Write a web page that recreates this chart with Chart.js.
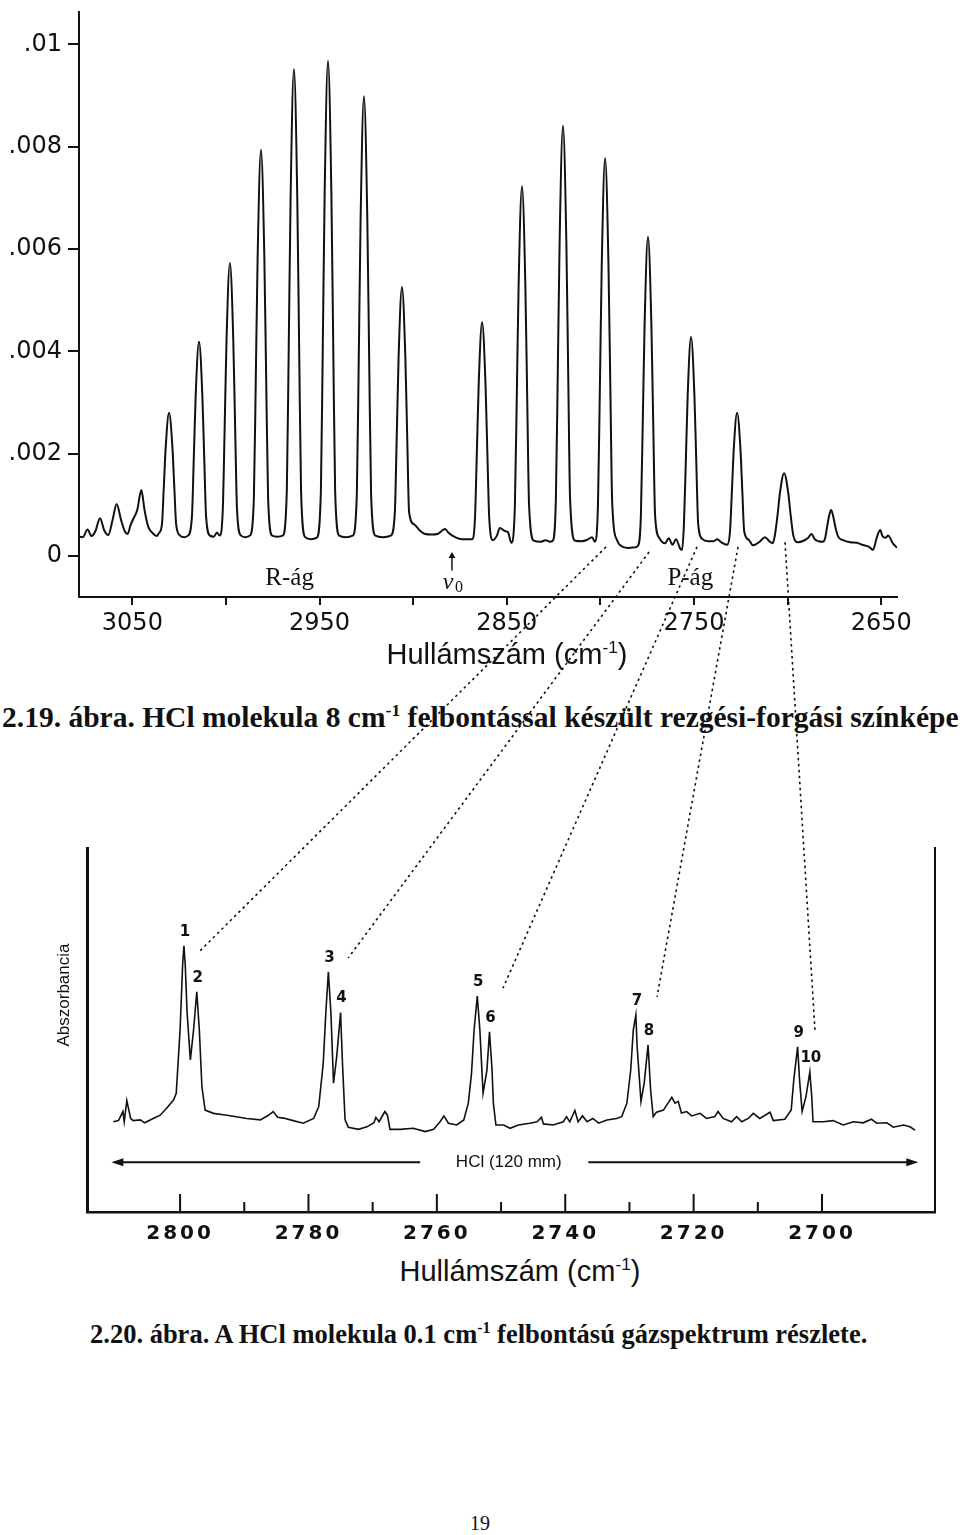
<!DOCTYPE html>
<html>
<head>
<meta charset="utf-8">
<script src="https://cdn.jsdelivr.net/npm/chart.js@4.4.1/dist/chart.umd.min.js"></script>
<style>
  body { margin: 0; background: #fff; }
  #page { position: relative; width: 960px; height: 1535px; overflow: hidden; background: #fff; }
  canvas { position: absolute; left: 0; }
  .txt { position: absolute; white-space: nowrap; color: #111; line-height: 1; }
  .sans { font-family: "Liberation Sans", Arial, sans-serif; }
  .serif { font-family: "Liberation Serif", "Times New Roman", serif; }
  sup { font-size: 0.6em; vertical-align: 0.65em; line-height: 0; }
</style>
</head>
<body>
<div id="page">
  <canvas id="lowRes" width="960" height="680" style="top:0"></canvas>
  <canvas id="hiRes" width="960" height="430" style="top:820px"></canvas>

  <div class="txt sans" style="left:507px; top:640px; font-size:29px; transform:translateX(-50%)">Hullámszám (cm<sup>-1</sup>)</div>
  <div class="txt serif" style="left:2px; top:703px; font-size:29.5px; font-weight:bold">2.19. ábra. HCl molekula 8 cm<sup>-1</sup> felbontással készült rezgési-forgási színképe</div>

  <div class="txt sans" style="left:63px; top:995px; font-size:17px; transform:translate(-50%,-50%) rotate(-90deg)">Abszorbancia</div>
  <div class="txt sans" style="left:520px; top:1257px; font-size:29px; transform:translateX(-50%)">Hullámszám (cm<sup>-1</sup>)</div>
  <div class="txt serif" style="left:90px; top:1321px; font-size:26.5px; font-weight:bold">2.20. ábra. A HCl molekula 0.1 cm<sup>-1</sup> felbontású gázspektrum részlete.</div>

  <div class="txt serif" style="left:480px; top:1513px; font-size:20px; transform:translateX(-50%)">19</div>

  <canvas id="overlay" width="960" height="1535" style="top:0; pointer-events:none"></canvas>
</div>

<script>
Chart.defaults.font.family = "'DejaVu Sans', sans-serif";
Chart.defaults.color = "#111";

// 8 cm-1 spectrum, [wavenumber, absorbance]
const rBranch = [
  [3078.8, 0.00038], [3076.5, 0.00037], [3073.9, 0.00052], [3071.8, 0.00039], [3069.6, 0.0005],
  [3067.3, 0.00074], [3065.0, 0.0005], [3062.9, 0.00041], [3060.6, 0.0007], [3058.4, 0.00102],
  [3056.0, 0.0007], [3054.0, 0.00048], [3052.6, 0.00043], [3051.0, 0.0006], [3049.6, 0.00072],
  [3047.4, 0.0009], [3045.2, 0.00129], [3043.5, 0.0009], [3041.5, 0.00057], [3039.2, 0.00045],
  [3037.0, 0.00039], [3035.8, 0.00045],
  [3034.2, 0.00062], [3033.2, 0.00135], [3032.2, 0.00212], [3030.4, 0.0028], [3028.6, 0.00212], [3027.6, 0.00135], [3026.6, 0.00062],
  [3024.5, 0.0004], [3022.3, 0.00037], [3020.3, 0.0004],
  [3018.2, 0.00076], [3017.2, 0.0019], [3016.2, 0.00312], [3014.4, 0.00419], [3012.6, 0.00312], [3011.6, 0.0019], [3010.6, 0.00076],
  [3008.5, 0.0004], [3006.5, 0.00038], [3004.8, 0.00046], [3003.4, 0.0004],
  [3001.7, 0.00091], [3000.7, 0.00251], [2999.7, 0.00423], [2997.9, 0.00573], [2996.1, 0.00423], [2995.1, 0.00251], [2994.1, 0.00091],
  [2992.0, 0.0004], [2989.5, 0.00037], [2987.2, 0.0004],
  [2985.1, 0.00113], [2984.1, 0.0034], [2983.1, 0.00582], [2981.3, 0.00794], [2979.5, 0.00582], [2978.5, 0.0034], [2977.5, 0.00113],
  [2975.3, 0.0004], [2972.5, 0.00038], [2969.7, 0.0004],
  [2967.5, 0.00128], [2966.5, 0.00402], [2965.5, 0.00696], [2963.7, 0.00952], [2961.9, 0.00696], [2960.9, 0.00402], [2959.9, 0.00128],
  [2957.7, 0.00037], [2954.6, 0.00033], [2951.5, 0.00036],
  [2949.3, 0.00128], [2948.3, 0.00408], [2947.3, 0.00707], [2945.5, 0.00968], [2943.7, 0.00707], [2942.7, 0.00408], [2941.7, 0.00128],
  [2939.5, 0.0004], [2936.0, 0.00037], [2932.3, 0.0004],
  [2930.1, 0.00122], [2929.1, 0.00381], [2928.1, 0.00657], [2926.3, 0.00899], [2924.5, 0.00657], [2923.5, 0.00381], [2922.5, 0.00122],
  [2920.2, 0.0004], [2916.0, 0.00037], [2912.0, 0.0004],
  [2909.8, 0.00086], [2908.8, 0.00233], [2907.8, 0.00389], [2906.0, 0.00526], [2904.2, 0.00389], [2903.2, 0.00233], [2902.2, 0.00086],
  [2899.5, 0.00062], [2896.5, 0.0005], [2893.7, 0.00043], [2890.0, 0.00042], [2887.0, 0.00043],
  [2884.5, 0.0005], [2883.0, 0.00053], [2881.0, 0.00045], [2878.6, 0.00039], [2874.0, 0.00033], [2868.6, 0.00033]
];
const pBranch = [
  [2867.0, 0.00075], [2866.0, 0.00203], [2865.0, 0.00338], [2863.2, 0.00457], [2861.4, 0.00338], [2860.4, 0.00203], [2859.4, 0.00075],
  [2857.4, 0.00031], [2855.3, 0.0004], [2853.7, 0.00055], [2851.0, 0.00049], [2849.4, 0.00047], [2847.6, 0.00026],
  [2845.7, 0.00098], [2844.7, 0.00307], [2843.7, 0.00529], [2841.9, 0.00723], [2840.1, 0.00529], [2839.1, 0.00307], [2838.1, 0.00098],
  [2835.5, 0.0003], [2832.0, 0.00028], [2829.3, 0.00031], [2827.0, 0.00028], [2825.5, 0.0003],
  [2823.8, 0.00111], [2822.8, 0.00354], [2821.8, 0.00614], [2820.0, 0.00841], [2818.2, 0.00614], [2817.2, 0.00354], [2816.2, 0.00111],
  [2813.5, 0.0003], [2810.0, 0.00029], [2807.0, 0.00032], [2804.5, 0.00037], [2803.0, 0.00028],
  [2801.3, 0.00103], [2800.3, 0.00328], [2799.3, 0.00568], [2797.5, 0.00778], [2795.7, 0.00568], [2794.7, 0.00328], [2793.7, 0.00103],
  [2791.0, 0.0003], [2788.0, 0.00018], [2785.0, 0.00016], [2781.5, 0.00017], [2780.0, 0.0002],
  [2778.4, 0.00079], [2777.4, 0.0026], [2776.4, 0.00454], [2774.6, 0.00624], [2772.8, 0.00454], [2771.8, 0.0026], [2770.8, 0.00079],
  [2768.5, 0.00035], [2765.5, 0.00025], [2763.5, 0.00035], [2761.5, 0.00022], [2759.6, 0.00033], [2757.5, 0.00015], [2756.4, 0.00012],
  [2755.4, 0.00063], [2754.4, 0.00184], [2753.4, 0.00314], [2751.6, 0.00428], [2749.8, 0.00314], [2748.8, 0.00184], [2747.8, 0.00063],
  [2745.5, 0.00033], [2742.5, 0.00029], [2739.8, 0.00029], [2737.5, 0.00033], [2735.5, 0.00027], [2732.2, 0.00022],
  [2730.8, 0.00048], [2729.8, 0.00125], [2728.8, 0.00208], [2727.0, 0.0028], [2725.2, 0.00208], [2724.2, 0.00125], [2723.2, 0.00048],
  [2720.8, 0.00032], [2718.5, 0.00021], [2715.0, 0.00028], [2712.1, 0.00037], [2709.8, 0.00029], [2708.0, 0.00025],
  [2706.9, 0.00039], [2705.4, 0.0008], [2704.1, 0.00124], [2701.9, 0.00162], [2699.7, 0.00124], [2698.4, 0.0008], [2696.9, 0.00039],
  [2694.5, 0.00027], [2691.5, 0.0003], [2689.0, 0.00036], [2687.3, 0.00043], [2685.5, 0.00033], [2683.5, 0.00029], [2681.2, 0.00028],
  [2680.0, 0.00035], [2678.8, 0.0006], [2677.8, 0.0008], [2676.8, 0.0009], [2675.8, 0.0008], [2674.6, 0.00058], [2673.0, 0.00038],
  [2670.4, 0.00031], [2666.6, 0.00027], [2663.0, 0.00026], [2660.3, 0.00022], [2656.5, 0.00018], [2654.4, 0.00012],
  [2652.5, 0.00035], [2650.6, 0.00051], [2649.2, 0.00038], [2647.6, 0.00036], [2646.4, 0.0004], [2643.8, 0.00025], [2641.6, 0.00016]
];
const lowResTicks = [3050, 3000, 2950, 2900, 2850, 2800, 2750, 2700, 2650];
const lowResTickLabels = ["3050", "", "2950", "", "2850", "", "2750", "", "2650"];
const absTicks = [0, 0.002, 0.004, 0.006, 0.008, 0.01];
const absTickLabels = ["0", ".002", ".004", ".006", ".008", ".01"];
const branchLabels = [["R-ág", 2966, -0.00043], ["P-ág", 2752, -0.00043]];
const bandOrigin = 2879.3;

// 0.1 cm-1 spectrum, [wavenumber, absorbance in arbitrary units]
const hiResSpectrum = [
  [2810.4, 24.8], [2809.6, 25.1], [2808.9, 27.6], [2808.7, 24.8], [2808.3, 30.6], [2807.7, 25.7], [2807.3, 25.1],
  [2806.2, 25.3], [2805.5, 24.5], [2804.2, 25.7], [2803.1, 26.6], [2802.1, 28.5], [2801.0, 30.8], [2800.6, 32.6],
  [2800.0, 50.0], [2799.6, 68.0], [2799.4, 73.1], [2799.2, 68.0], [2798.9, 54.6], [2798.4, 41.8], [2797.9, 50.0],
  [2797.4, 60.5], [2797.0, 50.0], [2796.6, 34.4], [2796.1, 28.0], [2794.8, 27.1], [2792.7, 26.6], [2789.6, 25.7],
  [2787.5, 25.3], [2786.3, 26.5], [2785.5, 27.6], [2784.8, 26.0], [2783.9, 25.8], [2782.4, 25.1], [2780.8, 24.4],
  [2779.2, 25.7], [2778.4, 29.0], [2777.7, 40.8], [2777.3, 54.6], [2776.9, 66.0], [2776.5, 54.6], [2776.1, 35.4],
  [2775.6, 42.7], [2775.0, 54.8], [2774.7, 40.8], [2774.3, 25.3], [2773.8, 23.3], [2772.2, 22.7], [2770.9, 23.4],
  [2769.8, 24.5], [2769.5, 26.0], [2769.0, 24.8], [2768.1, 27.6], [2767.7, 26.6], [2767.3, 22.7], [2765.7, 22.7],
  [2763.7, 23.0], [2761.8, 22.1], [2760.5, 22.7], [2759.5, 24.8], [2758.9, 26.4], [2758.2, 24.4], [2756.9, 23.9],
  [2755.8, 25.3], [2755.1, 29.9], [2754.6, 38.1], [2754.2, 50.0], [2753.7, 59.3], [2753.3, 50.0], [2752.8, 32.6],
  [2752.2, 39.0], [2751.8, 49.5], [2751.4, 39.0], [2751.2, 29.9], [2750.8, 23.9], [2749.6, 23.9], [2748.6, 23.0],
  [2747.3, 23.9], [2745.5, 24.4], [2744.4, 24.8], [2743.7, 26.0], [2743.4, 24.2], [2741.9, 23.9], [2740.3, 24.8],
  [2739.8, 26.2], [2739.3, 24.8], [2738.5, 27.9], [2738.0, 24.8], [2737.3, 26.4], [2736.6, 24.8], [2735.7, 25.7],
  [2734.8, 24.4], [2733.5, 25.3], [2732.0, 25.7], [2731.2, 26.2], [2730.4, 29.9], [2729.8, 39.0], [2729.4, 50.0],
  [2729.0, 54.1], [2728.8, 45.4], [2728.2, 30.4], [2727.7, 35.4], [2727.1, 45.9], [2726.7, 33.5], [2726.3, 26.2],
  [2725.8, 27.4], [2724.7, 28.0], [2723.4, 31.5], [2722.9, 29.9], [2722.4, 30.4], [2721.9, 27.2], [2721.1, 27.6],
  [2720.3, 26.4], [2719.0, 27.1], [2718.0, 25.7], [2716.7, 26.2], [2716.2, 27.6], [2715.4, 25.7], [2714.1, 24.8],
  [2713.3, 26.2], [2712.5, 24.8], [2711.5, 25.7], [2710.7, 27.1], [2709.7, 25.7], [2708.1, 27.4], [2707.6, 25.1],
  [2705.8, 25.5], [2704.8, 28.0], [2704.4, 36.3], [2703.8, 45.4], [2703.5, 36.3], [2703.1, 27.6], [2702.5, 31.7],
  [2701.9, 38.5], [2701.6, 31.7], [2701.4, 24.8], [2699.8, 24.8], [2698.3, 25.1], [2696.7, 23.9], [2695.1, 24.8],
  [2693.6, 24.5], [2692.3, 25.5], [2691.5, 24.4], [2689.9, 24.5], [2688.9, 23.3], [2687.3, 23.9], [2686.3, 23.4],
  [2685.5, 22.5]
];
const hiResTicks = [2800, 2790, 2780, 2770, 2760, 2750, 2740, 2730, 2720, 2710, 2700];
const hiResTickLabels = ["2800", "", "2780", "", "2760", "", "2740", "", "2720", "", "2700"];
const peakNumbers = ["1", "2", "3", "4", "5", "6", "7", "8", "9", "10"];
const peakWavenumbers = [2799.4, 2797.4, 2776.9, 2775.0, 2753.7, 2751.8, 2729.0, 2727.1, 2703.8, 2701.9];
const cellLabel = "HCl (120 mm)";

// dotted guides: low-res line foot -> high-res doublet
const guideFrom = [[2797.0, 0.00018], [2774.0, 0.00008], [2748.4, 0.00018], [2726.5, 0.00018], [2701.4, 0.00027]];
const guideTo = [[2797.2, 71.2], [2773.8, 69.8], [2749.7, 61.5], [2725.7, 59.1], [2701.1, 50.0]];

const ink = "#111";

function arrowHead(ctx, x, y, dir, len, half) {
  ctx.beginPath();
  ctx.moveTo(x, y);
  ctx.lineTo(x - dir * len, y - half);
  ctx.lineTo(x - dir * len, y + half);
  ctx.closePath();
  ctx.fill();
}

const lowResNotes = {
  id: "lowResNotes",
  afterDraw(chart) {
    const { ctx, scales: { x, y } } = chart;
    ctx.save();
    ctx.fillStyle = ink;
    ctx.strokeStyle = ink;
    ctx.textAlign = "center";
    ctx.textBaseline = "middle";
    ctx.font = "25px 'Liberation Serif', serif";
    branchLabels.forEach(([t, w, a]) => ctx.fillText(t, x.getPixelForValue(w), y.getPixelForValue(a)));
    // band origin arrow
    const ox = x.getPixelForValue(bandOrigin);
    ctx.lineWidth = 1.5;
    ctx.beginPath();
    ctx.moveTo(ox, y.getPixelForValue(-0.00028));
    ctx.lineTo(ox, y.getPixelForValue(0.00002));
    ctx.stroke();
    ctx.beginPath();
    ctx.moveTo(ox, y.getPixelForValue(0.00008));
    ctx.lineTo(ox - 3.5, y.getPixelForValue(-0.00004));
    ctx.lineTo(ox + 3.5, y.getPixelForValue(-0.00004));
    ctx.closePath();
    ctx.fill();
    const ny = y.getPixelForValue(-0.00052);
    ctx.font = "italic 24px 'Liberation Serif', serif";
    ctx.fillText("ν", ox - 4, ny);
    ctx.font = "16px 'Liberation Serif', serif";
    ctx.fillText("0", ox + 7, ny + 5);
    ctx.restore();
  }
};

const hiResNotes = {
  id: "hiResNotes",
  beforeDraw(chart) { chart.ctx.letterSpacing = "3px"; },
  afterDraw(chart) {
    const { ctx, scales: { x, y } } = chart;
    ctx.save();
    ctx.letterSpacing = "0px";
    ctx.strokeStyle = ink;
    ctx.fillStyle = ink;
    // tick marks point up into the plot
    ctx.lineWidth = 2;
    hiResTicks.forEach((v, i) => {
      const px = x.getPixelForValue(v);
      const len = hiResTickLabels[i] ? 18 : 10;
      ctx.beginPath();
      ctx.moveTo(px, x.top);
      ctx.lineTo(px, x.top - len);
      ctx.stroke();
    });
    // peak numbers
    ctx.font = "bold 15px 'DejaVu Sans', sans-serif";
    ctx.textAlign = "center";
    ctx.textBaseline = "middle";
    peakWavenumbers.forEach((w, i) => {
      const pt = hiResSpectrum.find(d => d[0] === w);
      ctx.fillText(peakNumbers[i], x.getPixelForValue(w) + 1, y.getPixelForValue(pt[1]) - 14);
    });
    // gas cell arrows
    const ay = y.getPixelForValue(13.7);
    const l0 = x.getPixelForValue(2810.7), l1 = x.getPixelForValue(2762.6);
    const r0 = x.getPixelForValue(2736.4), r1 = x.getPixelForValue(2685.0);
    ctx.lineWidth = 2;
    ctx.beginPath();
    ctx.moveTo(l0 + 8, ay); ctx.lineTo(l1, ay);
    ctx.moveTo(r0, ay); ctx.lineTo(r1 - 8, ay);
    ctx.stroke();
    arrowHead(ctx, l0, ay, -1, 12, 4);
    arrowHead(ctx, r1, ay, 1, 12, 4);
    ctx.font = "17px 'Liberation Sans', sans-serif";
    ctx.fillText(cellLabel, x.getPixelForValue(2748.8), ay);
    ctx.restore();
  }
};

const lowResChart = new Chart("lowRes", {
  type: "line",
  data: {
    datasets: [{
      data: rBranch.concat(pBranch).map(([w, a]) => ({ x: w, y: a })),
      borderColor: ink,
      borderWidth: 2,
      pointRadius: 0,
      fill: false,
      cubicInterpolationMode: "monotone"
    }]
  },
  options: {
    responsive: false,
    animation: false,
    layout: { padding: { top: 12, right: 63, left: 0, bottom: 0 } },
    plugins: { legend: { display: false }, tooltip: { enabled: false } },
    scales: {
      x: {
        type: "linear",
        reverse: true,
        min: 2641.6,
        max: 3078.5,
        afterBuildTicks: s => { s.ticks = lowResTicks.map(v => ({ value: v })); },
        afterFit: s => { s.height = 83; s.paddingLeft = 0; s.paddingRight = 0; },
        ticks: {
          autoSkip: false, maxRotation: 0, padding: 4,
          font: { size: 24 }, color: ink,
          callback: v => lowResTickLabels[lowResTicks.indexOf(v)]
        },
        grid: { drawOnChartArea: false, tickLength: 8, color: ink, lineWidth: 2 },
        border: { color: ink, width: 2 }
      },
      y: {
        min: -0.0008,
        max: 0.010635,
        afterBuildTicks: s => { s.ticks = absTicks.map(v => ({ value: v })); },
        afterFit: s => { s.width = 79; s.paddingTop = 0; s.paddingBottom = 0; },
        ticks: {
          padding: 6, font: { size: 24 }, color: ink,
          callback: v => absTickLabels[absTicks.indexOf(v)]
        },
        grid: { drawOnChartArea: false, tickLength: 11, color: ink, lineWidth: 2 },
        border: { color: ink, width: 2 }
      }
    }
  },
  plugins: [lowResNotes]
});

const hiResChart = new Chart("hiRes", {
  type: "line",
  data: {
    datasets: [{
      data: hiResSpectrum.map(([w, a]) => ({ x: w, y: a })),
      borderColor: ink,
      borderWidth: 1.6,
      pointRadius: 0,
      fill: false,
      tension: 0
    }]
  },
  options: {
    responsive: false,
    animation: false,
    layout: { padding: { top: 28, right: 0, left: 0, bottom: 0 } },
    plugins: { legend: { display: false }, tooltip: { enabled: false } },
    scales: {
      x: {
        type: "linear",
        reverse: true,
        min: 2682.4,
        max: 2814.5,
        afterBuildTicks: s => { s.ticks = hiResTicks.map(v => ({ value: v })); },
        afterFit: s => { s.height = 38; s.paddingLeft = 0; s.paddingRight = 0; },
        ticks: {
          autoSkip: false, maxRotation: 0, padding: 10,
          font: { size: 20, weight: "bold" }, color: ink,
          callback: v => hiResTickLabels[hiResTicks.indexOf(v)]
        },
        grid: { display: false, drawTicks: false },
        border: { color: ink, width: 2.5 }
      },
      y: {
        min: 0, max: 100,
        afterFit: s => { s.width = 87; s.paddingTop = 0; s.paddingBottom = 0; },
        ticks: { display: false },
        grid: { display: false, drawTicks: false },
        border: { color: ink, width: 3 }
      },
      y2: {
        type: "linear",
        position: "right",
        min: 0, max: 100,
        afterFit: s => { s.width = 25; s.paddingTop = 0; s.paddingBottom = 0; },
        ticks: { display: false },
        grid: { display: false, drawTicks: false },
        border: { color: ink, width: 2 }
      }
    }
  },
  plugins: [hiResNotes]
});

// dotted guide lines across both charts
(function drawGuides() {
  const ctx = document.getElementById("overlay").getContext("2d");
  const hiTop = 820;
  ctx.strokeStyle = ink;
  ctx.lineWidth = 1.6;
  ctx.setLineDash([2.5, 3.5]);
  guideFrom.forEach((f, i) => {
    const t = guideTo[i];
    ctx.beginPath();
    ctx.moveTo(lowResChart.scales.x.getPixelForValue(f[0]), lowResChart.scales.y.getPixelForValue(f[1]));
    ctx.lineTo(hiResChart.scales.x.getPixelForValue(t[0]), hiTop + hiResChart.scales.y.getPixelForValue(t[1]));
    ctx.stroke();
  });
})();
</script>
</body>
</html>
